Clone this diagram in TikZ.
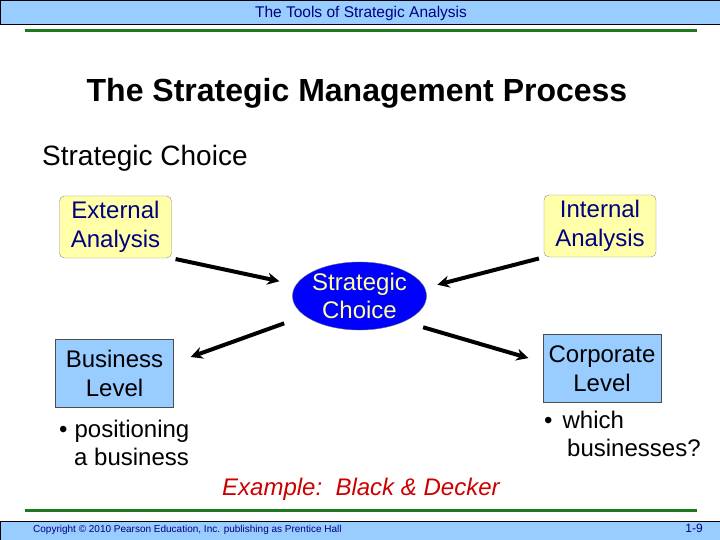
\documentclass[tikz,border=0pt]{standalone}
\usepackage{fontspec}
\setmainfont{Liberation Sans}
\usetikzlibrary{shapes.geometric,arrows.meta}
\definecolor{barblue}{RGB}{153,204,255}
\definecolor{rulegreen}{RGB}{30,120,30}
\definecolor{navytext}{RGB}{0,0,128}
\definecolor{paleyellow}{RGB}{255,255,170}
\definecolor{choiceblue}{RGB}{0,0,255}
\definecolor{choicetext}{RGB}{255,255,153}
\definecolor{examplered}{RGB}{204,0,0}

\begin{document}
\begin{tikzpicture}[x=1pt,y=-1pt]
\tikzstyle{every node}=[inner sep=0pt, font=\fontsize{24}{28.8}\selectfont]
\tikzstyle{analysis}=[draw=black!45, fill=paleyellow, rounded corners=5pt, minimum width=112pt, minimum height=62pt, align=center, text=navytext]
\tikzstyle{level}=[draw=black!70, fill=barblue, minimum width=118pt, minimum height=68pt, align=center, text=black]
\tikzstyle{flow}=[line width=4pt, -{Stealth[length=12pt,width=12pt]}]

\useasboundingbox (0,0) rectangle (720,540);
\draw[fill=barblue] (0,0) rectangle (720,24);
\draw[fill=barblue] (0,521) rectangle (720,540);
\draw[rulegreen, line width=3pt] (25,31) -- (697,31);
\draw[rulegreen, line width=3pt] (25,510) -- (697,510);

\node[text=navytext, font=\fontsize{15.5}{18}\selectfont] (header) at (361,13.5) {The Tools of Strategic Analysis};
\node[font=\bfseries\fontsize{32}{38}\selectfont] (title) at (357,93) {The Strategic Management Process};
\node[anchor=west, font=\fontsize{28}{34}\selectfont] (subtitle) at (42,158) {Strategic Choice};

\node[analysis] (ext) at (115.5,227) {External\\Analysis};
\node[analysis] (int) at (600,226) {Internal\\Analysis};
\node[ellipse, draw=black!60, fill=choiceblue, minimum width=131pt, minimum height=68pt, align=center, text=choicetext] (choice) at (359.5,296) {Strategic\\Choice};
\node[level] (bus) at (114.5,373.5) {Business\\Level};
\node[level] (corp) at (602,368.5) {Corporate\\Level};

\node[anchor=west, align=left, text=black] (busnote) at (59,443) {•\hspace{7pt}positioning\\\hspace*{15pt}a business};
\node[anchor=west, align=left, text=black] (corpnote) at (544,434) {•\hspace{10pt}which\\\hspace*{23pt}businesses?};
\node[anchor=west, text=examplered, font=\itshape\fontsize{24}{28.8}\selectfont] (example) at (222,489) {Example:\ \ Black \& Decker};

\node[anchor=west, text=navytext, font=\fontsize{10}{12}\selectfont] (copy) at (33,530) {Copyright © 2010 Pearson Education, Inc. publishing as Prentice Hall};
\node[anchor=east, text=navytext, font=\fontsize{12}{14}\selectfont] (page) at (703,528) {1-9};

\draw[flow, shorten <=4pt, shorten >=17pt] (ext.south east) -- (choice.170);
\draw[flow, shorten <=5pt, shorten >=13pt] (int.south west) -- (choice.7);
\draw[flow, shorten <=22pt, shorten >=18pt] (choice.200) -- (bus.10);
\draw[flow, shorten <=20pt, shorten >=15pt] (choice.330) -- (corp.174);
\end{tikzpicture}
\end{document}
